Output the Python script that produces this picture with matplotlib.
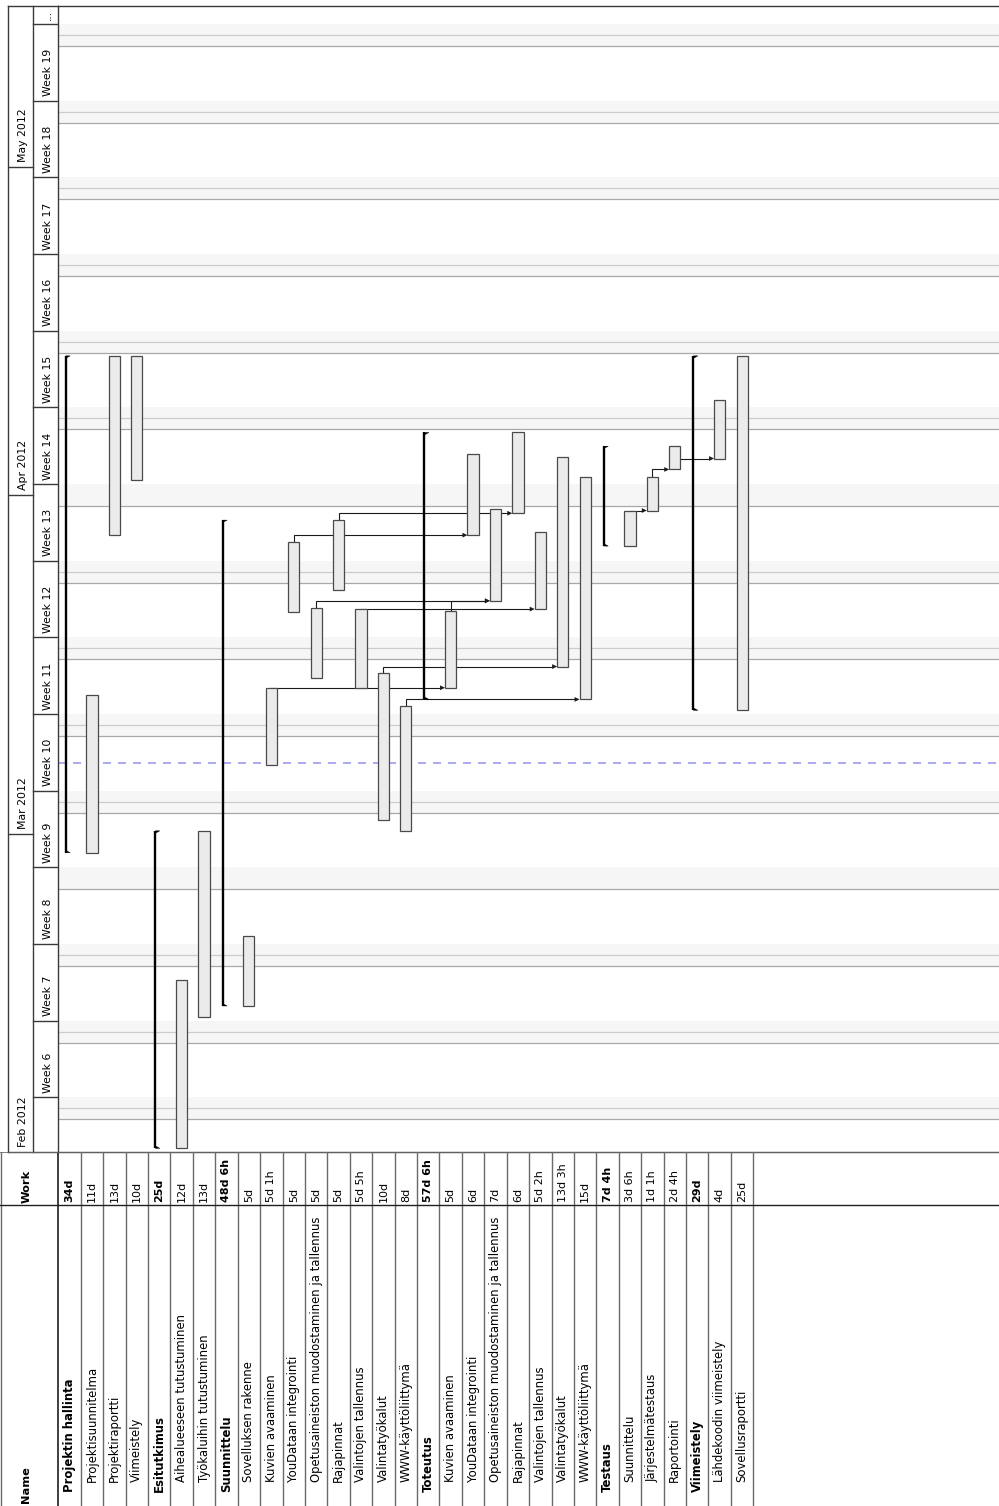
import matplotlib
matplotlib.use("Agg")
import matplotlib.pyplot as plt
import matplotlib.dates as mdates
from datetime import datetime, timedelta

plt.rcParams['font.family'] = ['DejaVu Sans']

# ---------------- data ----------------
task_names = [
    "Projektin hallinta", "Projektisuunnitelma", "Projektiraportti", "Viimeistely",
    "Esitutkimus", "Aihealueeseen tutustuminen", "Työkaluihin tutustuminen",
    "Suunnittelu", "Sovelluksen rakenne", "Kuvien avaaminen", "YouDataan integrointi",
    "Opetusaineiston muodostaminen ja tallennus", "Rajapinnat", "Valintojen tallennus",
    "Valintatyökalut", "WWW-käyttöliittymä",
    "Toteutus", "Kuvien avaaminen", "YouDataan integrointi",
    "Opetusaineiston muodostaminen ja tallennus", "Rajapinnat", "Valintojen tallennus",
    "Valintatyökalut", "WWW-käyttöliittymä",
    "Testaus", "Suunnittelu", "Järjestelmätestaus", "Raportointi",
    "Viimeistely", "Lähdekoodin viimeistely", "Sovellusraportti",
]
task_work = ["34d", "11d", "13d", "10d", "25d", "12d", "13d", "48d 6h", "5d", "5d 1h", "5d",
             "5d", "5d", "5d 5h", "10d", "8d", "57d 6h", "5d", "6d", "7d", "6d", "5d 2h",
             "13d 3h", "15d", "7d 4h", "3d 6h", "1d 1h", "2d 4h", "29d", "4d", "25d"]
is_summary = [1, 0, 0, 0, 1, 0, 0, 1, 0, 0, 0, 0, 0, 0, 0, 0,
              1, 0, 0, 0, 0, 0, 0, 0, 1, 0, 0, 0, 1, 0, 0]
task_start = [
    "2012-02-28 08:00", "2012-02-28 08:00", "2012-03-28 08:00", "2012-04-02 08:00",
    "2012-02-01 08:00", "2012-02-01 08:00", "2012-02-13 08:00",
    "2012-02-14 08:00", "2012-02-14 08:00", "2012-03-07 08:00", "2012-03-21 08:00",
    "2012-03-15 08:00", "2012-03-23 08:00", "2012-03-14 08:00", "2012-03-02 08:00",
    "2012-03-01 08:00",
    "2012-03-13 08:00", "2012-03-14 09:30", "2012-03-28 08:00", "2012-03-22 08:00",
    "2012-03-30 08:00", "2012-03-21 14:00", "2012-03-16 08:00", "2012-03-13 08:00",
    "2012-03-27 08:00", "2012-03-27 08:00", "2012-03-30 14:00", "2012-04-03 08:00",
    "2012-03-12 08:00", "2012-04-04 08:00", "2012-03-12 08:00",
]
task_end = [
    "2012-04-13 17:00", "2012-03-13 17:00", "2012-04-13 17:00", "2012-04-13 17:00",
    "2012-03-01 08:00", "2012-02-16 17:00", "2012-03-01 08:00",
    "2012-03-29 17:00", "2012-02-20 17:00", "2012-03-14 09:30", "2012-03-27 17:00",
    "2012-03-21 17:00", "2012-03-29 17:00", "2012-03-21 14:00", "2012-03-15 17:00",
    "2012-03-12 17:00",
    "2012-04-06 17:00", "2012-03-21 09:30", "2012-04-04 17:00", "2012-03-30 17:00",
    "2012-04-06 17:00", "2012-03-28 16:00", "2012-04-04 10:30", "2012-04-02 16:00",
    "2012-04-05 11:00", "2012-03-30 14:00", "2012-04-02 16:00", "2012-04-05 11:00",
    "2012-04-13 17:00", "2012-04-09 17:00", "2012-04-13 17:00",
]
# dependencies (predecessor row, successor row), 0-based
dependencies = [(9, 17), (10, 18), (11, 19), (17, 19), (12, 20), (13, 21), (14, 22),
                (15, 23), (25, 26), (26, 27), (27, 29)]

month_starts = ["2012-02-01", "2012-03-01", "2012-04-01", "2012-05-01"]
month_labels = ["Feb 2012", "Mar 2012", "Apr 2012", "May 2012"]
week_starts = ["2012-01-30", "2012-02-06", "2012-02-13", "2012-02-20", "2012-02-27",
               "2012-03-05", "2012-03-12", "2012-03-19", "2012-03-26", "2012-04-02",
               "2012-04-09", "2012-04-16", "2012-04-23", "2012-04-30", "2012-05-07",
               "2012-05-14"]
week_labels = ["", "Week 6", "Week 7", "Week 8", "Week 9", "Week 10", "Week 11",
               "Week 12", "Week 13", "Week 14", "Week 15", "Week 16", "Week 17",
               "Week 18", "Week 19", "..."]
today = "2012-03-07 13:00"
view_start = "2012-02-01"
sunday_lines_missing = ["2012-02-26", "2012-04-01"]

# ---------------- layout ----------------
W, H, DPI = 999, 1506, 100
ROW = 22.42          # px per row
X0 = 58.3            # px where rows begin
Y_TOP = 6            # px top of chart
Y_TAB = 1152         # px top of table
Y_WORK = 1205        # px line between Work and Name
PX_DAY = 10.95       # px per day


def dnum(s):
    fmt = "%Y-%m-%d %H:%M" if " " in s else "%Y-%m-%d"
    return mdates.date2num(datetime.strptime(s, fmt))


vs = dnum(view_start)
ve = vs + (Y_TAB - Y_TOP) / PX_DAY
day_px = 1.0 / PX_DAY  # one pixel in days

fig = plt.figure(figsize=(W / DPI, H / DPI), dpi=DPI)
fig.patch.set_facecolor("white")

LINE = "#3a3a3a"

# ---------------- chart ----------------
ax = fig.add_axes([X0 / W, 1 - Y_TAB / H, 1 - X0 / W, (Y_TAB - Y_TOP) / H])
ax.set_xlim(0, (W - X0) / ROW)
ax.set_ylim(vs, ve)
ax.set_xticks([])
ax.set_yticks([])
for k, sp in ax.spines.items():
    sp.set_visible(k in ("top", "bottom", "left"))
    sp.set_color(LINE)
    sp.set_linewidth(1.0)

# weekends
d = datetime.strptime(view_start, "%Y-%m-%d") - timedelta(days=7)
end_dt = mdates.num2date(ve).replace(tzinfo=None)
missing = set(sunday_lines_missing)
while d < end_dt:
    if d.weekday() == 5:
        s = mdates.date2num(d)
        ax.axhspan(s, s + 2, color="#f6f6f6", lw=0, zorder=0)
        ax.axhline(s, color="#a8a8a8", lw=0.9, zorder=1)
        sun = d + timedelta(days=1)
        if sun.strftime("%Y-%m-%d") not in missing:
            ax.axhline(s + 1, color="#cccccc", lw=0.9, zorder=1)
    d += timedelta(days=1)

# today line
ax.axhline(dnum(today), color="#9c9cf0", lw=1.2, dashes=(4.8, 4.2), zorder=2)

starts = [dnum(s) for s in task_start]
ends = [dnum(s) for s in task_end]

# dependency connectors
arr_len = 5.0 / ROW
arr_hw = 2.4 * day_px
for p, s in dependencies:
    xp = p + 0.5
    xs = s + 0.25
    ys = starts[s]
    ax.plot([xp, xp, xs - arr_len], [ends[p], ys, ys], color="#1a1a1a", lw=0.8,
            zorder=3, solid_joinstyle="miter")
    ax.fill([xs - arr_len, xs, xs - arr_len], [ys - arr_hw, ys, ys + arr_hw],
            color="#1a1a1a", lw=0, zorder=3)

# bars
for i in range(len(task_names)):
    s, e = starts[i], ends[i]
    if is_summary[i]:
        x = i + 0.33
        ax.plot([x, x], [s, e], color="black", lw=1.7, zorder=4, solid_capstyle="butt")
        tw = 4.5 / ROW
        th = 2.5 * day_px
        ax.fill([x, x + tw, x], [e, e, e - th], color="black", lw=0.3, zorder=4)
        ax.fill([x, x + tw, x], [s, s, s + th], color="black", lw=0.3, zorder=4)
    else:
        ax.bar(i + 0.5, e - s, bottom=s, width=0.5, color="#ebebeb",
               edgecolor="#4a4a4a", linewidth=0.9, zorder=4)

# ---------------- timeline header ----------------
hx = fig.add_axes([8 / W, 1 - Y_TAB / H, (X0 - 8) / W, (Y_TAB - Y_TOP) / H])
hx.set_xlim(8, X0)
hx.set_ylim(vs, ve)
hx.axis("off")
X_MID = 33
hx.plot([8, 8], [vs, ve], color=LINE, lw=1.0, clip_on=False)
hx.plot([X_MID, X_MID], [vs, ve], color=LINE, lw=1.0, clip_on=False)
hx.plot([8, X0], [ve, ve], color=LINE, lw=1.0, clip_on=False)
hx.plot([8, X0], [vs, vs], color=LINE, lw=1.0, clip_on=False)

for ms, lab in zip(month_starts, month_labels):
    m = dnum(ms)
    if m > vs:
        hx.plot([8, X_MID], [m, m], color=LINE, lw=1.0)
    hx.text(23.3, max(m, vs) + 5 * day_px, lab, rotation=90, rotation_mode="anchor",
            ha="left", va="center", fontsize=7.8, color="black")

for ws, lab in zip(week_starts, week_labels):
    w = dnum(ws)
    if vs < w < ve:
        hx.plot([X_MID, X0], [w, w], color=LINE, lw=1.0)
    if lab:
        hx.text(48.0, max(w, vs) + 4.5 * day_px, lab, rotation=90, rotation_mode="anchor",
                ha="left", va="center", fontsize=7.8, color="black")

# ---------------- table ----------------
tx = fig.add_axes([0, 0, 1, (H - Y_TAB) / H])
tx.set_xlim(-X0 / ROW, (W - X0) / ROW)
tx.set_ylim(H - Y_TAB, 0)
tx.axis("off")
n = len(task_names)
for i in range(n + 1):
    tx.plot([i, i], [0, H - Y_TAB], color="#303030" if i == 0 else "#6a6a6a",
            lw=1.3 if i == 0 else 1.0)
tx.plot([(1.0 - X0) / ROW] * 2, [0, H - Y_TAB], color="#6a6a6a", lw=1.0)
tx.plot([-X0 / ROW, (W - X0) / ROW], [0, 0], color="#6a6a6a", lw=1.2)
tx.plot([-X0 / ROW, (W - X0) / ROW], [Y_WORK - Y_TAB, Y_WORK - Y_TAB], color="#202020", lw=1.0)

hdr_x = (26.5 - X0) / ROW
tx.text(hdr_x, Y_WORK - Y_TAB - 2, "Work", rotation=90, rotation_mode="anchor",
        ha="left", va="center", fontsize=8.2, fontweight="bold")
tx.text(hdr_x, H - Y_TAB - 3, "Name", rotation=90, rotation_mode="anchor",
        ha="left", va="center", fontsize=8.2, fontweight="bold")

for i in range(n):
    bold = "bold" if is_summary[i] else "normal"
    tx.text(i + 0.5, Y_WORK - Y_TAB - 3.5, task_work[i], rotation=90,
            rotation_mode="anchor", ha="left", va="center", fontsize=8.0,
            fontweight=bold)
    ystart = (1491.5 if is_summary[i] else 1482.5) - Y_TAB
    tx.text(i + 0.5, ystart, task_names[i], rotation=90, rotation_mode="anchor",
            ha="left", va="center", fontsize=8.4, fontweight=bold)

fig.savefig("out.png", dpi=DPI, facecolor="white")
